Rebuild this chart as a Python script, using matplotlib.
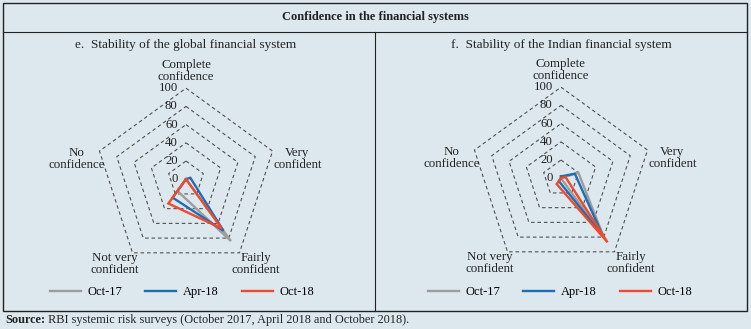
import numpy as np
import matplotlib
matplotlib.use("Agg")
import matplotlib.pyplot as plt
from matplotlib.patches import Rectangle
from matplotlib.lines import Line2D
from matplotlib.text import Annotation

plt.rcParams['font.family'] = ['Liberation Serif', 'DejaVu Serif']

# survey categories, clockwise from the top
categories = ['Complete\nconfidence', 'Very\nconfident', 'Fairly\nconfident',
              'Not very\nconfident', 'No\nconfidence']
series_names = ['Oct-17', 'Apr-18', 'Oct-18']
colors = ['#9d9d9d', '#1f6db4', '#ee4a2c']

# per cent of respondents
global_oct17 = [0, 0, 84, 16, 0]
global_apr18 = [0, 5, 70, 25, 0]
global_oct18 = [0, 0, 67, 33, 0]

indian_oct17 = [0, 20, 80, 0, 0]
indian_apr18 = [2, 16, 78, 4, 0]
indian_oct18 = [0, 5, 87, 8, 0]

ring_values = [20, 40, 60, 80, 100]
tick_values = [0, 20, 40, 60, 80, 100]

bg = '#dde8ee'
ink = '#222222'
W, H = 751, 329
fig = plt.figure(figsize=(W / 100, H / 100), dpi=100, facecolor=bg)

angles = np.linspace(0, 2 * np.pi, len(categories), endpoint=False)
closed = np.append(angles, angles[0])

# label offsets (points) from each outer vertex
label_offsets = [(0, 12.5), (18, -5.8), (12, -8), (-13, -8), (-16.5, -5.8)]


def radar(cx, cy, r_px, subtitle, data, legend_cx):
    ax = fig.add_axes([(cx - r_px) / W, 1 - (cy + r_px) / H, 2 * r_px / W, 2 * r_px / H],
                      projection='polar')
    ax.set_theta_zero_location('N')
    ax.set_theta_direction(-1)
    ax.set_ylim(0, 100)
    ax.grid(False)
    ax.spines['polar'].set_visible(False)
    ax.set_xticks([])
    ax.set_yticks([])
    ax.patch.set_visible(False)

    for v in ring_values:
        ax.plot(closed, [v] * len(closed), color='#505050', lw=0.8,
                ls=(0, (3.2, 2.6)), clip_on=False, zorder=1)

    for v in tick_values:
        ax.annotate(str(v), xy=(0, v), xytext=(-6, 0), textcoords='offset points',
                    ha='right', va='center', fontsize=9.2, color=ink,
                    annotation_clip=False)

    for ang, lab, off in zip(angles, categories, label_offsets):
        ax.annotate(lab, xy=(ang, 100), xytext=off, textcoords='offset points',
                    ha='center', va='center', multialignment='center',
                    fontsize=9.3, color=ink, linespacing=1.0,
                    annotation_clip=False)

    handles = []
    for vals, c, name in zip(data, colors, series_names):
        vals = list(vals) + [vals[0]]
        h, = ax.plot(closed, vals, color=c, lw=1.7, clip_on=False, zorder=3,
                     solid_joinstyle='miter', label=name)
        handles.append(h)

    fig.text(cx / W, 1 - 45 / H, subtitle, ha='center', va='center', fontsize=9.5,
             color=ink)
    fig.legend(handles=handles, loc='center', ncol=3,
               bbox_to_anchor=(legend_cx / W, 1 - 292 / H), frameon=False,
               fontsize=9, handlelength=2.5, handletextpad=0.55,
               columnspacing=1.8, borderaxespad=0)
    return ax


radar(186, 179.2, 91, 'e.  Stability of the global financial system',
      [global_oct17, global_apr18, global_oct18], 182)
radar(561, 178.2, 91, 'f.  Stability of the Indian financial system',
      [indian_oct17, indian_apr18, indian_oct18], 560)

# outer box, title row and panel divider
fig.add_artist(Rectangle((3 / W, 1 - 311 / H), 744 / W, 308 / H,
                         transform=fig.transFigure, fill=False,
                         ec=ink, lw=1.0))
fig.add_artist(Line2D([3 / W, 747 / W], [1 - 32 / H, 1 - 32 / H],
                      transform=fig.transFigure, color=ink, lw=0.8))
fig.add_artist(Line2D([375 / W, 375 / W], [1 - 32 / H, 1 - 311 / H],
                      transform=fig.transFigure, color=ink, lw=0.8))

fig.text(375 / W, 1 - 17 / H, 'Confidence in the financial systems', ha='center',
         va='center', fontsize=9, fontweight='bold', color=ink)

src = fig.text(5 / W, 1 - 320 / H, 'Source:', ha='left', va='center', fontsize=8.8,
               fontweight='bold', color=ink)
fig.add_artist(Annotation(
    ' RBI systemic risk surveys (October 2017, April 2018 and October 2018).',
    xy=(1, 0), xycoords=src, ha='left', va='bottom', fontsize=8.8, color=ink))

fig.savefig('out.png', dpi=100, facecolor=bg)
